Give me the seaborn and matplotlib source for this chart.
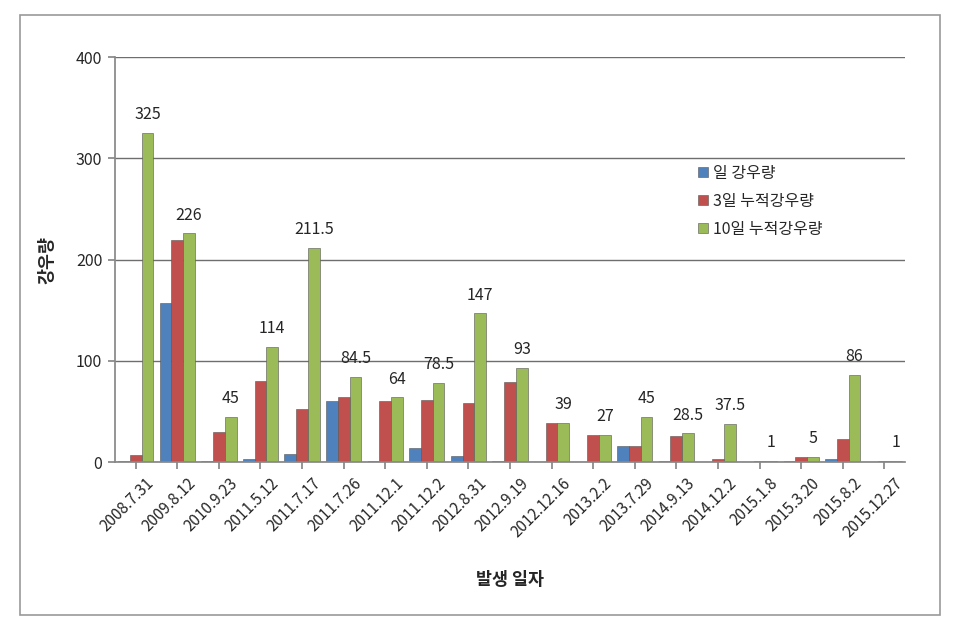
import matplotlib
matplotlib.use("Agg")
import matplotlib.pyplot as plt
import seaborn as sns
import pandas as pd
from matplotlib.patches import Rectangle
from matplotlib.transforms import ScaledTranslation

dates = ["2008.7.31", "2009.8.12", "2010.9.23", "2011.5.12", "2011.7.17", "2011.7.26",
         "2011.12.1", "2011.12.2", "2012.8.31", "2012.9.19", "2012.12.16", "2013.2.2",
         "2013.7.29", "2014.9.13", "2014.12.2", "2015.1.8", "2015.3.20", "2015.8.2",
         "2015.12.27"]
daily = [1, 157, 1, 3, 8, 60, 1, 14, 6, 1, 0.5, 0.5, 16, 1, 0.5, 0, 1, 3, 0]
cum3 = [7, 219, 30, 80, 53, 64, 60, 61, 58, 79, 39, 27, 16, 26, 3, 1, 5, 23, 1]
cum10 = [325, 226, 45, 114, 211.5, 84.5, 64, 78.5, 147, 93, 39, 27, 45, 28.5, 37.5, 1, 5, 86, 1]
cum10_labels = ["325", "226", "45", "114", "211.5", "84.5", "64", "78.5", "147", "93",
                "39", "27", "45", "28.5", "37.5", "1", "5", "86", "1"]
series = ["일 강우량", "3일 누적강우량", "10일 누적강우량"]
colors = ["#4F81BD", "#C0504D", "#9BBB59"]

df = pd.DataFrame({
    "date": dates * 3,
    "series": [series[0]] * len(dates) + [series[1]] * len(dates) + [series[2]] * len(dates),
    "value": daily + cum3 + cum10,
})

sns.set_theme(style="white")
plt.rcParams["font.family"] = ["Noto Sans CJK KR", "DejaVu Sans"]

fig = plt.figure(figsize=(9.65, 6.34), dpi=100)
ax = fig.add_axes([0.119, 0.271, 0.819, 0.639])

sns.barplot(data=df, x="date", y="value", hue="series", palette=colors,
            width=0.85, ax=ax, edgecolor="#555555", linewidth=0.4, saturation=1)

ax.set_ylim(0, 400)
ax.set_yticks([0, 100, 200, 300, 400])
ax.yaxis.grid(True, color="#6e6e6e", linewidth=1)
ax.set_axisbelow(True)
for s in ["top", "right"]:
    ax.spines[s].set_visible(False)
ax.spines["left"].set_color("#888888")
ax.spines["bottom"].set_color("#888888")
ax.tick_params(axis="y", left=True, length=5, color="#888888", labelsize=11.5, pad=4)
ax.tick_params(axis="x", bottom=True, length=5, color="#888888", labelsize=11, pad=4)
ax.set_xticks(range(len(dates)))
ax.set_xticklabels(dates, rotation=45, ha="right", rotation_mode="anchor")
offset = ScaledTranslation(10 / 100, 0, fig.dpi_scale_trans)
for lbl in ax.get_xticklabels():
    lbl.set_transform(lbl.get_transform() + offset)
ax.set_xlim(-0.5, len(dates) - 0.5)

ax.bar_label(ax.containers[2], labels=cum10_labels, padding=7, fontsize=11.5)

ax.set_xlabel("발생 일자", fontsize=12.5, fontweight="bold", labelpad=22)
ax.set_ylabel("강우량", fontsize=12.5, fontweight="bold", labelpad=14)

leg = ax.legend(loc="upper left", bbox_to_anchor=(0.72, 0.77), frameon=False,
                fontsize=11.5, handlelength=0.6, handleheight=0.6, handletextpad=0.3,
                labelspacing=0.7)

fig.patches.append(Rectangle((0.021, 0.03), 0.953, 0.946, transform=fig.transFigure,
                             fill=False, edgecolor="#999999", linewidth=1.2))

fig.savefig("out.png", dpi=100)
